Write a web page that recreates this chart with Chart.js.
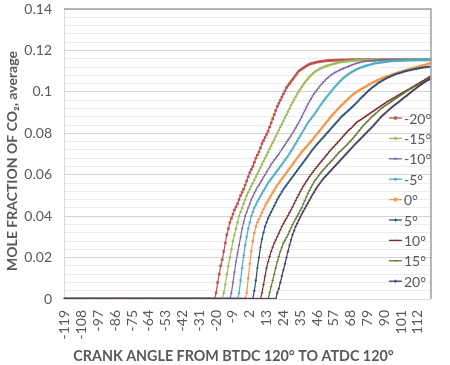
<!DOCTYPE html>
<html>
<head>
<meta charset="utf-8">
<script src="https://cdn.jsdelivr.net/npm/chart.js@4.4.1/dist/chart.umd.min.js"></script>
<style>
  html, body { margin: 0; padding: 0; background: #fff; }
  #wrap { width: 450px; height: 365px; }
</style>
</head>
<body>
<div id="wrap"><canvas id="grafico" width="450" height="365"></canvas></div>
<script>
// crank angle categories, -119 .. 120
const ANGULOS = [
  -119,-118,-117,-116,-115,-114,-113,-112,-111,-110,
  -109,-108,-107,-106,-105,-104,-103,-102,-101,-100,
  -99,-98,-97,-96,-95,-94,-93,-92,-91,-90,
  -89,-88,-87,-86,-85,-84,-83,-82,-81,-80,
  -79,-78,-77,-76,-75,-74,-73,-72,-71,-70,
  -69,-68,-67,-66,-65,-64,-63,-62,-61,-60,
  -59,-58,-57,-56,-55,-54,-53,-52,-51,-50,
  -49,-48,-47,-46,-45,-44,-43,-42,-41,-40,
  -39,-38,-37,-36,-35,-34,-33,-32,-31,-30,
  -29,-28,-27,-26,-25,-24,-23,-22,-21,-20,
  -19,-18,-17,-16,-15,-14,-13,-12,-11,-10,
  -9,-8,-7,-6,-5,-4,-3,-2,-1,0,
  1,2,3,4,5,6,7,8,9,10,
  11,12,13,14,15,16,17,18,19,20,
  21,22,23,24,25,26,27,28,29,30,
  31,32,33,34,35,36,37,38,39,40,
  41,42,43,44,45,46,47,48,49,50,
  51,52,53,54,55,56,57,58,59,60,
  61,62,63,64,65,66,67,68,69,70,
  71,72,73,74,75,76,77,78,79,80,
  81,82,83,84,85,86,87,88,89,90,
  91,92,93,94,95,96,97,98,99,100,
  101,102,103,104,105,106,107,108,109,110,
  111,112,113,114,115,116,117,118,119,120
];

const LEGENDAS = ['-20°', '-15°', '-10°', '-5°', '0°', '5°', '10°', '15°', '20°'];
const CORES = ['#C0504D', '#9BBB59', '#8064A2', '#4BACC6', '#F79646', '#2C4D75', '#772C2A', '#5F7530', '#4D3B62'];
const MARCADORES = ['rect', 'triangle', 'crossRot', 'star', 'circle', 'cross', 'line', 'line', 'cross'];
const TITULO_X = 'CRANK ANGLE FROM BTDC 120° TO ATDC 120°';
const TITULO_Y = 'MOLE FRACTION OF CO₂, average';

const co2_m20 = [
  0,0,0,0,0,0,0,0,0,0, 0,0,0,0,0,0,0,0,0,0, 0,0,0,0,0,0,0,0,0,0,
  0,0,0,0,0,0,0,0,0,0, 0,0,0,0,0,0,0,0,0,0, 0,0,0,0,0,0,0,0,0,0,
  0,0,0,0,0,0,0,0,0,0, 0,0,0,0,0,0,0,0,0,0, 0,0,0,0,0,0,0,0,0,0,
  0,0,0,0,0,0,0,0,0,
  .003,.008,.012,.016,.019,.023,.027,.031,.034,.037,
  .039,.041,.043,.0445,.046,.048,.050,.0515,.053,.055,
  .057,.059,.061,.0625,.064,.066,.068,.0695,.071,.073,
  .075,.0765,.078,.0795,.081,.083,.085,.087,.089,.091,
  .093,.0945,.096,.0975,.099,.1005,.102,.103,.104,.105,
  .106,.107,.108,.109,.110,.1105,.111,.1115,.112,.1125,
  .113,.1133,.1136,.1138,.114,.1142,.1144,.1145,.1146,.1147,
  .1148,.1149,.115,.1151,.1151,.1152,.1152,.1152,.1153,.1153,
  .1153,.1154,.1154,.1154,.1154,.1154,.1154,.1155,.1155,.1155,
  .1155,.1155,.1155,.1155,.1155,.1155,.1155,.1155,.1155,.1155,
  .1155,.1155,.1155,.1155,.1155,.1155,.1155,.1155,.1155,.1155,
  .1155,.1155,.1155,.1155,.1155,.1155,.1155,.1155,.1155,.1155,
  .1155,.1155,.1155,.1155,.1155,.1155,.1155,.1155,.1155,.1155,
  .1155,.1155,.1155,.1155,.1155,.1155,.1155,.1155,.1155,.1155,
  .1155
];

const co2_m15 = [
  0,0,0,0,0,0,0,0,0,0, 0,0,0,0,0,0,0,0,0,0, 0,0,0,0,0,0,0,0,0,0,
  0,0,0,0,0,0,0,0,0,0, 0,0,0,0,0,0,0,0,0,0, 0,0,0,0,0,0,0,0,0,0,
  0,0,0,0,0,0,0,0,0,0, 0,0,0,0,0,0,0,0,0,0, 0,0,0,0,0,0,0,0,0,0,
  0,0,0,0,0,0,0,0,0,0, 0,0,0,0,
  .003,.007,.012,.016,.020,.024,.028,.031,.034,.037,
  .040,.042,.044,.046,.048,.050,.0515,.053,.0545,.056,
  .0575,.059,.0605,.062,.0635,.065,.0665,.068,.0695,.071,
  .0725,.074,.0755,.077,.0785,.080,.0815,.083,.0845,.086,
  .0875,.089,.0905,.092,.0935,.095,.0963,.0976,.0989,.1001,
  .1013,.1024,.1035,.1045,.1055,.1064,.1072,.108,.1087,.1093,
  .1099,.1104,.1108,.1112,.1116,.1119,.1122,.1125,.1127,.1129,
  .1131,.1133,.1135,.1137,.1139,.1141,.1143,.1144,.1145,.1146,
  .1147,.1148,.1149,.115,.115,.1151,.1151,.1152,.1152,.1153,
  .1153,.1153,.1154,.1154,.1154,.1154,.1155,.1155,.1155,.1155,
  .1155,.1155,.1155,.1155,.1155,.1155,.1155,.1155,.1155,.1155,
  .1155,.1155,.1155,.1155,.1155,.1155,.1155,.1155,.1155,.1155,
  .1155,.1155,.1155,.1155,.1155,.1155,.1155,.1155,.1155,.1155,
  .1155,.1155,.1155,.1155,.1155,.1155
];

const co2_m10 = [
  0,0,0,0,0,0,0,0,0,0, 0,0,0,0,0,0,0,0,0,0, 0,0,0,0,0,0,0,0,0,0,
  0,0,0,0,0,0,0,0,0,0, 0,0,0,0,0,0,0,0,0,0, 0,0,0,0,0,0,0,0,0,0,
  0,0,0,0,0,0,0,0,0,0, 0,0,0,0,0,0,0,0,0,0, 0,0,0,0,0,0,0,0,0,0,
  0,0,0,0,0,0,0,0,0,0, 0,0,0,0,0,0,0,0,0,
  .003,.008,.013,.018,.022,.026,.030,.034,.037,.040,
  .042,.044,.046,.048,.0495,.051,.0525,.054,.055,.0563,
  .0575,.0588,.060,.0613,.0625,.0638,.065,.066,.067,.068,
  .069,.070,.0712,.0723,.0734,.0745,.0756,.0767,.0778,.0789,
  .080,.0813,.0826,.0839,.0852,.0865,.088,.0895,.091,.0925,
  .094,.0953,.0966,.0978,.099,.1,.101,.102,.1029,.1038,
  .1046,.1054,.1061,.1068,.1074,.108,.1085,.109,.1094,.1098,
  .1102,.1106,.1109,.1112,.1115,.1118,.1121,.1124,.1127,.113,
  .1133,.1136,.1138,.114,.1142,.1144,.1146,.1147,.1148,.1149,
  .1149,.115,.115,.1151,.1151,.1152,.1152,.1153,.1153,.1154,
  .1154,.1155,.1155,.1155,.1155,.1155,.1155,.1155,.1155,.1155,
  .1155,.1155,.1155,.1155,.1155,.1155,.1155,.1155,.1155,.1155,
  .1155,.1155,.1155,.1155,.1155,.1155,.1155,.1155,.1155,.1155,
  .1155
];

const co2_m5 = [
  0,0,0,0,0,0,0,0,0,0, 0,0,0,0,0,0,0,0,0,0, 0,0,0,0,0,0,0,0,0,0,
  0,0,0,0,0,0,0,0,0,0, 0,0,0,0,0,0,0,0,0,0, 0,0,0,0,0,0,0,0,0,0,
  0,0,0,0,0,0,0,0,0,0, 0,0,0,0,0,0,0,0,0,0, 0,0,0,0,0,0,0,0,0,0,
  0,0,0,0,0,0,0,0,0,0, 0,0,0,0,0,0,0,0,0,0, 0,0,0,0,
  .003,.009,.015,.021,.026,.030,.034,.037,.040,.042,
  .044,.0455,.047,.0483,.0497,.051,.0523,.0535,.0548,.056,
  .057,.058,.059,.060,.061,.062,.063,.064,.065,.066,
  .067,.068,.069,.0702,.0714,.0726,.0738,.075,.0763,.0775,
  .0788,.080,.0813,.0825,.0838,.085,.086,.087,.088,.089,
  .090,.0911,.0922,.0933,.0943,.0953,.0963,.0973,.0982,.0991,
  .1,.1009,.1018,.1027,.1035,.1043,.1051,.1058,.1065,.1071,
  .1077,.1083,.1088,.1093,.1097,.1101,.1105,.1109,.1112,.1115,
  .1118,.1121,.1124,.1126,.1128,.113,.1132,.1134,.1136,.1138,
  .1139,.114,.1141,.1142,.1143,.1144,.1145,.1146,.1147,.1148,
  .1148,.1149,.1149,.115,.115,.115,.1151,.1151,.1151,.1152,
  .1152,.1152,.1153,.1153,.1153,.1153,.1154,.1154,.1154,.1154,
  .1154,.1155,.1155,.1155,.1155,.1155
];

const co2_0 = [
  0,0,0,0,0,0,0,0,0,0, 0,0,0,0,0,0,0,0,0,0, 0,0,0,0,0,0,0,0,0,0,
  0,0,0,0,0,0,0,0,0,0, 0,0,0,0,0,0,0,0,0,0, 0,0,0,0,0,0,0,0,0,0,
  0,0,0,0,0,0,0,0,0,0, 0,0,0,0,0,0,0,0,0,0, 0,0,0,0,0,0,0,0,0,0,
  0,0,0,0,0,0,0,0,0,0, 0,0,0,0,0,0,0,0,0,0, 0,0,0,0,0,0,0,0,0,
  .003,.010,.017,.023,.028,.032,.035,.037,.0385,.040,
  .0417,.0433,.045,.0463,.0475,.0488,.050,.0513,.0525,.0538,
  .055,.056,.057,.058,.059,.060,.061,.062,.063,.064,
  .065,.066,.067,.068,.069,.070,.071,.0718,.0727,.0735,
  .0743,.0752,.076,.0769,.0778,.0787,.0797,.0806,.0815,.0824,
  .0834,.0843,.0852,.0861,.0871,.088,.0888,.0896,.0904,.0912,
  .092,.0928,.0935,.0942,.0949,.0956,.0963,.097,.0977,.0984,
  .099,.0995,.1,.1005,.101,.1014,.1018,.1022,.1026,.1031,
  .1035,.1039,.1043,.1047,.105,.1054,.1058,.1061,.1064,.1067,
  .107,.1073,.1075,.1078,.108,.1083,.1085,.1088,.109,.1093,
  .1095,.1097,.11,.1102,.1104,.1106,.1108,.111,.1112,.1115,
  .1117,.1119,.1121,.1123,.1125,.1127,.1129,.1131,.1134,.1136,
  .1138
];

const co2_5 = [
  0,0,0,0,0,0,0,0,0,0, 0,0,0,0,0,0,0,0,0,0, 0,0,0,0,0,0,0,0,0,0,
  0,0,0,0,0,0,0,0,0,0, 0,0,0,0,0,0,0,0,0,0, 0,0,0,0,0,0,0,0,0,0,
  0,0,0,0,0,0,0,0,0,0, 0,0,0,0,0,0,0,0,0,0, 0,0,0,0,0,0,0,0,0,0,
  0,0,0,0,0,0,0,0,0,0, 0,0,0,0,0,0,0,0,0,0, 0,0,0,0,0,0,0,0,0,0,
  0,0,0,0,
  .004,.009,.015,.020,.025,.029,.032,.035,.037,.039,
  .0405,.042,.0435,.045,.0465,.048,.0493,.0505,.0518,.053,
  .054,.055,.056,.057,.058,.059,.060,.061,.062,.063,
  .064,.065,.066,.067,.068,.069,.070,.071,.072,.073,
  .0738,.0747,.0755,.0763,.0772,.078,.0788,.0797,.0805,.0813,
  .0822,.083,.0838,.0847,.0855,.0863,.0872,.088,.0887,.0893,
  .09,.0907,.0913,.092,.0927,.0934,.0941,.0948,.0956,.0965,
  .0972,.0979,.0986,.0994,.1001,.1008,.1014,.102,.1026,.1031,
  .1037,.1043,.1047,.1051,.1056,.106,.1064,.1068,.1071,.1074,
  .1078,.1081,.1084,.1087,.1089,.1091,.1093,.1096,.1098,.11,
  .1102,.1103,.1105,.1107,.1108,.111,.1111,.1113,.1114,.1116,
  .1117,.1118,.1119,.112,.1121,.1122
];

const co2_10 = [
  0,0,0,0,0,0,0,0,0,0, 0,0,0,0,0,0,0,0,0,0, 0,0,0,0,0,0,0,0,0,0,
  0,0,0,0,0,0,0,0,0,0, 0,0,0,0,0,0,0,0,0,0, 0,0,0,0,0,0,0,0,0,0,
  0,0,0,0,0,0,0,0,0,0, 0,0,0,0,0,0,0,0,0,0, 0,0,0,0,0,0,0,0,0,0,
  0,0,0,0,0,0,0,0,0,0, 0,0,0,0,0,0,0,0,0,0, 0,0,0,0,0,0,0,0,0,0,
  0,0,0,0,0,0,0,0,0,
  .003,.007,.011,.015,.018,.0205,.023,.025,.027,.0285,
  .030,.0317,.0333,.035,.0363,.0377,.039,.0403,.0417,.043,
  .0445,.046,.0475,.049,.0504,.0518,.0531,.0545,.0556,.0568,
  .0579,.059,.060,.061,.062,.063,.0639,.0648,.0657,.0666,
  .0675,.0684,.0693,.0702,.0711,.072,.0728,.0736,.0744,.0752,
  .076,.0768,.0777,.0785,.0793,.0802,.081,.0817,.0823,.083,
  .0838,.0846,.0853,.0858,.0863,.0868,.0873,.0878,.0883,.0888,
  .0893,.0898,.0903,.0908,.0913,.0918,.0923,.0928,.0933,.0938,
  .0943,.0948,.0953,.0957,.0961,.0966,.097,.0974,.0979,.0983,
  .0987,.0992,.0996,.1,.1004,.1009,.1013,.1017,.1022,.1026,
  .103,.1035,.1039,.1043,.1048,.1052,.1056,.1061,.1065,.107,
  .1075
];

const co2_15 = [
  0,0,0,0,0,0,0,0,0,0, 0,0,0,0,0,0,0,0,0,0, 0,0,0,0,0,0,0,0,0,0,
  0,0,0,0,0,0,0,0,0,0, 0,0,0,0,0,0,0,0,0,0, 0,0,0,0,0,0,0,0,0,0,
  0,0,0,0,0,0,0,0,0,0, 0,0,0,0,0,0,0,0,0,0, 0,0,0,0,0,0,0,0,0,0,
  0,0,0,0,0,0,0,0,0,0, 0,0,0,0,0,0,0,0,0,0, 0,0,0,0,0,0,0,0,0,0,
  0,0,0,0,0,0,0,0,0,0, 0,0,0,0,
  .003,.006,.009,.012,.015,.018,.0205,.023,.025,.027,
  .0283,.0297,.031,.0327,.0343,.036,.0373,.0387,.040,.0413,
  .0427,.044,.0458,.0475,.0493,.051,.0524,.0538,.0551,.0565,
  .0575,.0585,.0595,.0605,.0614,.0623,.0631,.064,.0648,.0655,
  .0663,.067,.0679,.0688,.0696,.0705,.0712,.0719,.0726,.0733,
  .074,.0748,.0756,.0764,.0772,.078,.0789,.0798,.0808,.0817,
  .0826,.0835,.0843,.085,.0858,.0865,.0873,.088,.0887,.0893,
  .09,.0907,.0913,.092,.0925,.093,.0935,.094,.0945,.095,
  .0955,.096,.0965,.097,.0975,.098,.0985,.099,.0995,.1,
  .1005,.101,.1014,.1018,.1023,.1027,.1031,.1035,.1038,.1041,
  .1044,.1048,.1051,.1054,.1057,.106
];

const co2_20 = [
  0,0,0,0,0,0,0,0,0,0, 0,0,0,0,0,0,0,0,0,0, 0,0,0,0,0,0,0,0,0,0,
  0,0,0,0,0,0,0,0,0,0, 0,0,0,0,0,0,0,0,0,0, 0,0,0,0,0,0,0,0,0,0,
  0,0,0,0,0,0,0,0,0,0, 0,0,0,0,0,0,0,0,0,0, 0,0,0,0,0,0,0,0,0,0,
  0,0,0,0,0,0,0,0,0,0, 0,0,0,0,0,0,0,0,0,0, 0,0,0,0,0,0,0,0,0,0,
  0,0,0,0,0,0,0,0,0,0, 0,0,0,0,0,0,0,0,0,
  .003,.005,.008,.011,.014,.017,.020,.023,.026,.0285,
  .031,.033,.035,.0365,.038,.0395,.041,.0423,.0437,.045,
  .0463,.0477,.049,.0503,.0515,.0528,.054,.055,.056,.057,
  .058,.0588,.0596,.0604,.0612,.062,.0628,.0636,.0644,.0652,
  .066,.0668,.0676,.0684,.0692,.070,.0708,.0716,.0724,.0732,
  .074,.0748,.0755,.0763,.077,.0778,.0785,.0793,.080,.0808,
  .0815,.0823,.083,.0838,.0847,.0855,.0863,.0872,.088,.0887,
  .0893,.09,.0907,.0913,.092,.0926,.0932,.0938,.0943,.0949,
  .0955,.0961,.0967,.0973,.0978,.0984,.099,.0996,.1002,.1008,
  .1013,.1019,.1025,.103,.1035,.104,.1045,.105,.1055,.106,
  .1065
];

const SERIES = [co2_m20, co2_m15, co2_m10, co2_m5, co2_0, co2_5, co2_10, co2_15, co2_20];

const CINZA_TEXTO = '#595959';
const FONTE = 'Lato';

// legend drawn inside the plot, on the right side
const legendaInterna = {
  id: 'legendaInterna',
  afterDraw(chart) {
    const { ctx, chartArea } = chart;
    const x0 = chartArea.right - 42;
    const y0 = chartArea.top + 109;
    chart.data.datasets.forEach((ds, i) => {
      const y = y0 + i * 20.4;
      ctx.save();
      ctx.strokeStyle = ds.borderColor;
      ctx.fillStyle = ds.borderColor;
      ctx.lineWidth = 1.3;
      ctx.beginPath();
      ctx.moveTo(x0, y);
      ctx.lineTo(x0 + 13, y);
      ctx.stroke();
      ctx.lineWidth = 1;
      Chart.helpers.drawPoint(ctx, { pointStyle: ds.pointStyle, radius: 1.6, rotation: 0, borderWidth: 1 }, x0 + 6.5, y);
      ctx.fillStyle = CINZA_TEXTO;
      ctx.font = `14px ${FONTE}`;
      ctx.textBaseline = 'middle';
      ctx.textAlign = 'left';
      ctx.fillText(ds.label, x0 + 15, y + 1);
      ctx.restore();
    });
  }
};

// plot area frame: darker line on top and right side
const moldura = {
  id: 'moldura',
  afterDraw(chart) {
    const { ctx, chartArea: a } = chart;
    ctx.save();
    ctx.strokeStyle = '#9E9E9E';
    ctx.lineWidth = 1.5;
    ctx.beginPath();
    ctx.moveTo(a.left, a.top);
    ctx.lineTo(a.right, a.top);
    ctx.lineTo(a.right, a.bottom);
    ctx.stroke();
    ctx.restore();
  }
};

// axis titles, placed a bit off-centre like in the original
const titulosEixos = {
  id: 'titulosEixos',
  afterDraw(chart) {
    const { ctx, chartArea: a, height } = chart;
    ctx.save();
    ctx.fillStyle = CINZA_TEXTO;
    ctx.textAlign = 'center';
    ctx.textBaseline = 'middle';
    ctx.font = `bold 14.3px ${FONTE}`;
    ctx.fillText(TITULO_X, (a.left + a.right) / 2 - 14, height - 9);
    ctx.translate(12, (a.top + a.bottom) / 2 + 7);
    ctx.rotate(-Math.PI / 2);
    ctx.font = `bold 14px ${FONTE}`;
    ctx.fillText(TITULO_Y, 0, 0);
    ctx.restore();
  }
};

const ehMaior = v => Math.round(v * 1000) % 20 === 0;

const grafico = new Chart(document.getElementById('grafico'), {
  type: 'line',
  data: {
    labels: ANGULOS,
    datasets: SERIES.map((s, i) => ({
      label: LEGENDAS[i],
      data: s,
      borderColor: CORES[i],
      backgroundColor: CORES[i],
      pointBackgroundColor: CORES[i],
      pointBorderColor: CORES[i],
      pointStyle: MARCADORES[i],
      pointRadius: MARCADORES[i] === 'circle' ? 1 : 1.3,
      pointBorderWidth: 0.8,
      borderWidth: 1.2,
      tension: 0,
      order: SERIES.length - i
    }))
  },
  options: {
    responsive: false,
    animation: false,
    devicePixelRatio: 1,
    layout: { padding: { left: 3, right: 6, top: 0, bottom: 0 } },
    plugins: {
      legend: { display: false },
      tooltip: { enabled: false }
    },
    scales: {
      x: {
        type: 'category',
        offset: true,
        grid: { display: false, drawTicks: true, tickLength: 8 },
        border: { color: '#D9D9D9' },
        ticks: {
          autoSkip: false,
          minRotation: 90,
          maxRotation: 90,
          padding: 3,
          color: CINZA_TEXTO,
          font: { family: FONTE, size: 14 },
          callback: function (v, i) { return i % 11 === 0 ? String(this.getLabelForValue(v)) : ''; }
        },
        title: { display: false },
        afterFit: s => { s.height = 66; }
      },
      y: {
        min: 0,
        max: 0.14,
        grid: {
          drawTicks: false,
          color: c => (c.tick && ehMaior(c.tick.value) ? '#D4D4D4' : '#EBEBEB'),
          lineWidth: 1
        },
        border: { color: '#D9D9D9' },
        ticks: {
          stepSize: 0.004,
          maxTicksLimit: 60,
          autoSkip: false,
          padding: 12,
          color: CINZA_TEXTO,
          font: { family: FONTE, size: 14 },
          callback: v => (ehMaior(v) ? String(Math.round(v * 100) / 100) : '')
        },
        title: { display: false },
        // keep the tick gap without pushing the plot down
        afterFit: s => { s.width = 61; s.paddingTop = 9; }
      }
    }
  },
  plugins: [moldura, legendaInterna, titulosEixos]
});

const errados = SERIES.map((s, i) => s.length === ANGULOS.length ? null : LEGENDAS[i] + ':' + s.length).filter(Boolean);
if (errados.length) throw new Error('series length mismatch ' + errados.join(', '));
</script>
</body>
</html>
